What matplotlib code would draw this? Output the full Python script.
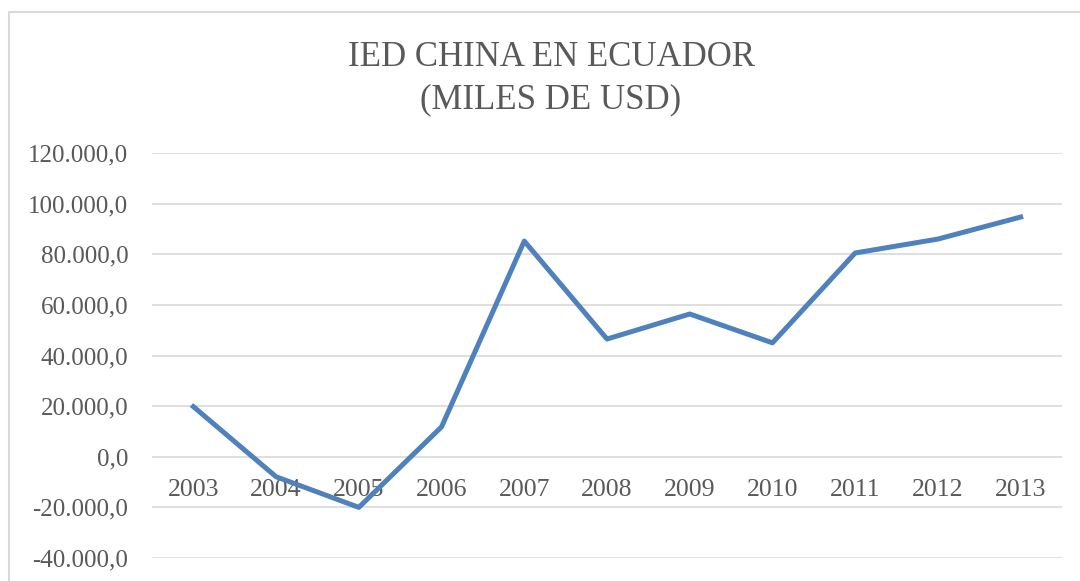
import matplotlib.pyplot as plt
from matplotlib.patches import Rectangle
from matplotlib.ticker import FuncFormatter

years = ["2003", "2004", "2005", "2006", "2007", "2008",
         "2009", "2010", "2011", "2012", "2013"]
ied = [19800, -7900, -20000, 11800, 85200, 46500,
       56400, 45000, 80500, 86000, 94700]
yticks = [-40000, -20000, 0, 20000, 40000, 60000, 80000, 100000, 120000]

W, H = 1080, 581
text_col = "#595959"
grid_col = "#D9D9D9"

plt.rcParams["font.family"] = ["Liberation Serif", "DejaVu Serif"]

fig = plt.figure(figsize=(W / 100, H / 100), dpi=100)
ax = fig.add_axes([152 / W, 1 - 558 / H, (1062 - 152) / W, (558 - 153) / H])

x = range(len(years))
ax.plot(x, ied, color="#4F81BD", lw=3.6, solid_joinstyle="round", zorder=3)

ax.set_xlim(-0.5, len(years) - 0.5)
ax.set_ylim(yticks[0], yticks[-1])
ax.set_yticks(yticks)
ax.yaxis.set_major_formatter(FuncFormatter(
    lambda v, _: f"{v:,.1f}".replace(",", "X").replace(".", ",").replace("X", ".")))
ax.grid(axis="y", color=grid_col, lw=1.2)
ax.set_axisbelow(True)

ax.set_xticks(list(x))
ax.set_xticklabels(years)
ax.spines["bottom"].set_position(("data", 0))
for s in ax.spines.values():
    s.set_visible(False)
ax.tick_params(axis="x", length=0, pad=16, labelsize=18.5, labelcolor=text_col)
ax.tick_params(axis="y", length=0, pad=17, labelsize=18, labelcolor=text_col)

fig.text(551 / W, 1 - 57 / H, "IED CHINA EN ECUADOR", ha="center", va="center",
         fontsize=25, color=text_col)
fig.text(551 / W, 1 - 100 / H, "(MILES DE USD)", ha="center", va="center",
         fontsize=25, color=text_col)

# chart area border (cropped on right and bottom)
fig.patches.append(Rectangle((9 / W, -0.1), 1.2, 1 - 12 / H + 0.1,
                             transform=fig.transFigure, fill=False,
                             edgecolor=grid_col, lw=1.5))

fig.savefig("out.png", dpi=100, facecolor="white")
